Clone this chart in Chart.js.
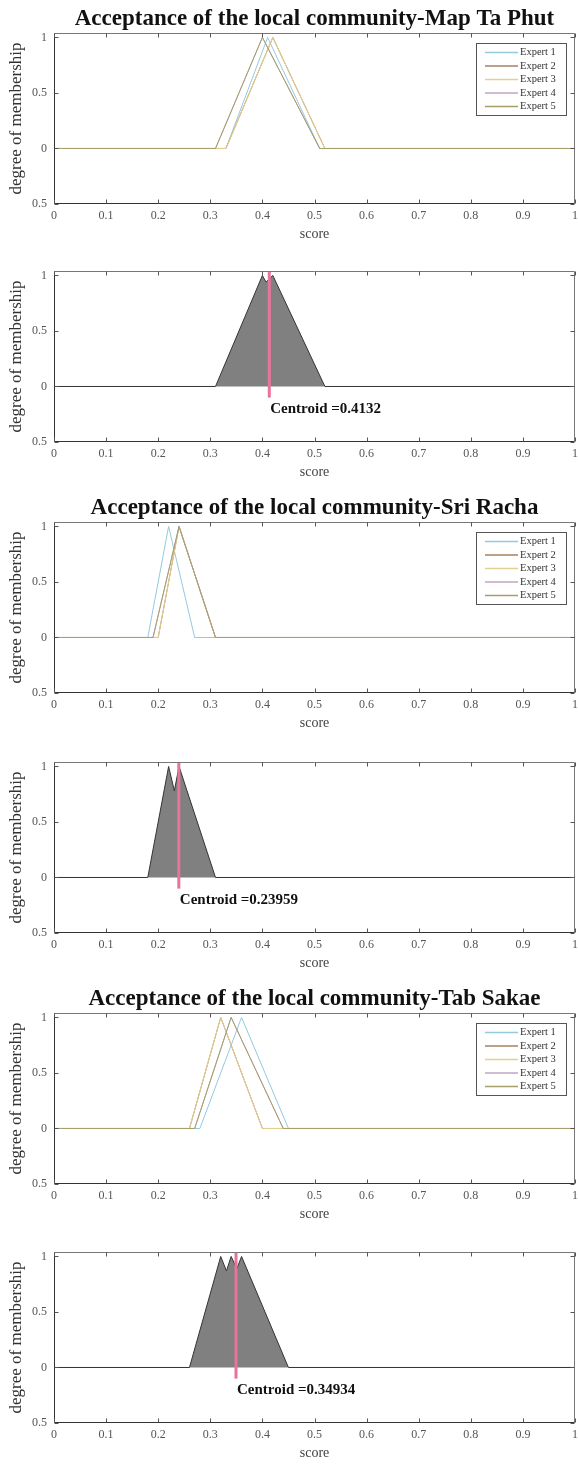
<!DOCTYPE html>
<html>
<head>
<meta charset="utf-8">
<title>Acceptance of the local community</title>
<script src="https://cdn.jsdelivr.net/npm/chart.js@4.4.1/dist/chart.umd.min.js"></script>
<style>
  html, body { margin: 0; padding: 0; background: #fff; }
  body { position: relative; width: 578px; height: 1465px; overflow: hidden; }
  canvas { position: absolute; left: 0; }
</style>
</head>
<body>
<script>
/* =========================
   AXIS TICKS (shared)
========================= */
const xTicks = [0, 0.1, 0.2, 0.3, 0.4, 0.5, 0.6, 0.7, 0.8, 0.9, 1];
const xTickLabels = ['0', '0.1', '0.2', '0.3', '0.4', '0.5', '0.6', '0.7', '0.8', '0.9', '1'];
const yTicks = [-0.5, 0, 0.5, 1];
const yTickLabels = ['0.5', '0', '0.5', '1'];

const expertNames = ['Expert 1', 'Expert 2', 'Expert 3', 'Expert 4', 'Expert 5'];

/* =========================
   EXPERT OPINIONS
   triangular numbers [left, peak, right]
========================= */
const mapTaPhutExperts = [
  [0.33, 0.41, 0.51],
  [0.33, 0.42, 0.52],
  [0.33, 0.42, 0.52],
  [0.31, 0.40, 0.51],
  [0.31, 0.40, 0.51]
];
const sriRachaExperts = [
  [0.18, 0.22, 0.27],
  [0.20, 0.24, 0.31],
  [0.20, 0.24, 0.31],
  [0.19, 0.24, 0.31],
  [0.19, 0.24, 0.31]
];
const tabSakaeExperts = [
  [0.28, 0.36, 0.45],
  [0.26, 0.32, 0.40],
  [0.26, 0.32, 0.40],
  [0.27, 0.34, 0.44],
  [0.27, 0.34, 0.44]
];

/* =========================
   AGGREGATED MEMBERSHIP (outline vertices)
========================= */
const mapTaPhutAggX = [0, 0.31, 0.40, 0.407, 0.42, 0.52, 1];
const mapTaPhutAggY = [0, 0, 1, 0.94, 1, 0, 0];
const sriRachaAggX = [0, 0.18, 0.22, 0.231, 0.24, 0.31, 1];
const sriRachaAggY = [0, 0, 1, 0.78, 1, 0, 0];
const tabSakaeAggX = [0, 0.26, 0.32, 0.331, 0.34, 0.351, 0.36, 0.45, 1];
const tabSakaeAggY = [0, 0, 1, 0.87, 1, 0.89, 1, 0, 0];

const centroidMapTaPhut = 0.4132;
const centroidSriRacha = 0.23959;
const centroidTabSakae = 0.34934;

/* =========================
   STYLE
========================= */
const expertColors = ['#94c9de', '#a9805f', '#e2d08f', '#c2a4c4', '#a5a06a'];
const fillGrey = '#808080';
const centroidPink = '#e8739c';
const Y_MAX = 1.04;

Chart.defaults.font.family = "'Liberation Serif', 'DejaVu Serif', serif";
Chart.defaults.color = '#555';

function toPoints(xs, ys) {
  return xs.map((x, i) => ({ x: x, y: ys[i] }));
}

function triangle(t) {
  return [{ x: 0, y: 0 }, { x: t[0], y: 0 }, { x: t[1], y: 1 }, { x: t[2], y: 0 }, { x: 1, y: 0 }];
}

/* box frame with inward ticks on all four sides */
const axesBox = {
  id: 'axesBox',
  afterDatasetsDraw(chart) {
    const ctx = chart.ctx;
    const { left, right, top, bottom } = chart.chartArea;
    const xs = chart.scales.x, ys = chart.scales.y;
    const L = Math.round(left) + 0.5, R = Math.round(right) - 0.5;
    const T = Math.round(top) + 0.5, B = Math.round(bottom) - 0.5;
    ctx.save();
    ctx.lineWidth = 1;

    ctx.strokeStyle = '#777';
    ctx.beginPath();
    ctx.moveTo(L, T); ctx.lineTo(R, T); ctx.lineTo(R, B);
    ctx.stroke();

    ctx.strokeStyle = '#333';
    ctx.beginPath();
    ctx.moveTo(L, T); ctx.lineTo(L, B); ctx.lineTo(R, B);
    ctx.stroke();

    ctx.strokeStyle = '#555';
    ctx.beginPath();
    xTicks.forEach(v => {
      const px = Math.round(xs.getPixelForValue(v)) + 0.5;
      ctx.moveTo(px, B); ctx.lineTo(px, B - 4);
      ctx.moveTo(px, T); ctx.lineTo(px, T + 4);
    });
    yTicks.forEach(v => {
      const py = Math.round(ys.getPixelForValue(v)) + 0.5;
      ctx.moveTo(L, py); ctx.lineTo(L + 4, py);
      ctx.moveTo(R, py); ctx.lineTo(R - 4, py);
    });
    ctx.stroke();
    ctx.restore();
  }
};

/* legend box in the top-right corner of the expert plots */
const expertLegend = {
  id: 'expertLegend',
  afterDatasetsDraw(chart) {
    const items = chart.data.datasets.filter(d => d.inLegend);
    if (!items.length) return;
    const ctx = chart.ctx;
    const bw = 90, bh = 72;
    const bx = Math.round(chart.chartArea.right - 99);
    const by = Math.round(chart.chartArea.top + 10);
    ctx.save();
    ctx.fillStyle = '#fff';
    ctx.fillRect(bx, by, bw, bh);
    ctx.strokeStyle = '#555';
    ctx.lineWidth = 1;
    ctx.strokeRect(bx + 0.5, by + 0.5, bw, bh);
    ctx.font = "10.5px 'Liberation Serif', serif";
    ctx.textBaseline = 'middle';
    items.forEach((d, i) => {
      const ry = by + 9.5 + i * 13.5;
      ctx.strokeStyle = d.borderColor;
      ctx.lineWidth = 1.5;
      ctx.beginPath();
      ctx.moveTo(bx + 9, ry); ctx.lineTo(bx + 42, ry);
      ctx.stroke();
      ctx.fillStyle = '#333';
      ctx.fillText(d.label, bx + 44, ry);
    });
    ctx.restore();
  }
};

/* "Centroid =..." text under the centroid line */
const centroidLabel = {
  id: 'centroidLabel',
  afterDatasetsDraw(chart) {
    const d = chart.data.datasets.find(ds => ds.centroid !== undefined);
    if (!d) return;
    const ctx = chart.ctx;
    const px = chart.scales.x.getPixelForValue(d.centroid);
    const py = chart.scales.y.getPixelForValue(-0.2);
    ctx.save();
    ctx.font = "bold 15px 'Liberation Serif', serif";
    ctx.fillStyle = '#111';
    ctx.textBaseline = 'middle';
    ctx.fillText('Centroid =' + d.centroid, px + 1, py);
    ctx.restore();
  }
};

function makeOptions(titleText, topPad) {
  return {
    responsive: false,
    animation: false,
    devicePixelRatio: 1,
    layout: { padding: { top: topPad, right: 3, left: 0, bottom: 0 } },
    plugins: {
      legend: { display: false },
      tooltip: { enabled: false },
      title: {
        display: !!titleText,
        text: titleText || '',
        fullSize: false,
        color: '#111',
        font: { size: 23, weight: 'bold', lineHeight: 1 },
        padding: { top: 8, bottom: 2 }
      }
    },
    scales: {
      x: {
        type: 'linear',
        min: 0,
        max: 1,
        afterBuildTicks: s => { s.ticks = xTicks.map(v => ({ value: v })); },
        ticks: {
          callback: (v, i) => xTickLabels[i],
          color: '#555',
          font: { size: 12 },
          padding: 5,
          maxRotation: 0,
          autoSkip: false
        },
        grid: { display: false, drawTicks: false },
        border: { display: false },
        title: { display: true, text: 'score', color: '#444', font: { size: 14 }, padding: { top: 0, bottom: 3 } },
        afterFit: s => { s.height = 42; s.paddingLeft = 0; s.paddingRight = 0; }
      },
      y: {
        type: 'linear',
        min: -0.5,
        max: Y_MAX,
        afterBuildTicks: s => { s.ticks = yTicks.map(v => ({ value: v })); },
        ticks: {
          callback: (v, i) => yTickLabels[i],
          color: '#555',
          font: { size: 12 },
          padding: 7,
          autoSkip: false
        },
        grid: { display: false, drawTicks: false },
        border: { display: false },
        title: { display: true, text: 'degree of membership', color: '#333', font: { size: 17 }, padding: { top: 6.5, bottom: 0 } },
        afterFit: s => { s.width = 54; }
      }
    }
  };
}

function addCanvas(top, height) {
  const c = document.createElement('canvas');
  c.width = 578;
  c.height = height;
  c.style.top = top + 'px';
  document.body.appendChild(c);
  return c;
}

/* =========================
   EXPERT PLOTS
========================= */
function drawExperts(top, titleText, experts) {
  const datasets = experts.map((t, i) => ({
    label: expertNames[i],
    data: triangle(t),
    borderColor: expertColors[i],
    borderWidth: 1,
    pointRadius: 0,
    fill: false,
    tension: 0,
    order: experts.length - i,
    inLegend: true
  }));
  new Chart(addCanvas(top, 33 + 171 + 42), {
    type: 'line',
    data: { datasets: datasets },
    options: makeOptions(titleText, 0),
    plugins: [axesBox, expertLegend]
  });
}

/* =========================
   AGGREGATED PLOTS
========================= */
function drawAggregate(top, aggX, aggY, centroid) {
  new Chart(addCanvas(top, 26 + 171 + 42), {
    type: 'line',
    data: {
      datasets: [
        {
          data: [{ x: centroid, y: -0.1 }, { x: centroid, y: Y_MAX }],
          borderColor: centroidPink,
          borderWidth: 3,
          pointRadius: 0,
          fill: false,
          order: 0,
          centroid: centroid
        },
        {
          data: toPoints(aggX, aggY),
          borderColor: '#333',
          borderWidth: 1,
          backgroundColor: fillGrey,
          pointRadius: 0,
          fill: 'origin',
          tension: 0,
          order: 1
        }
      ]
    },
    options: makeOptions(null, 26),
    plugins: [axesBox, centroidLabel]
  });
}

drawExperts(0, 'Acceptance of the local community-Map Ta Phut', mapTaPhutExperts);
drawAggregate(245, mapTaPhutAggX, mapTaPhutAggY, centroidMapTaPhut);
drawExperts(489, 'Acceptance of the local community-Sri Racha', sriRachaExperts);
drawAggregate(736, sriRachaAggX, sriRachaAggY, centroidSriRacha);
drawExperts(980, 'Acceptance of the local community-Tab Sakae', tabSakaeExperts);
drawAggregate(1226, tabSakaeAggX, tabSakaeAggY, centroidTabSakae);
</script>
</body>
</html>
